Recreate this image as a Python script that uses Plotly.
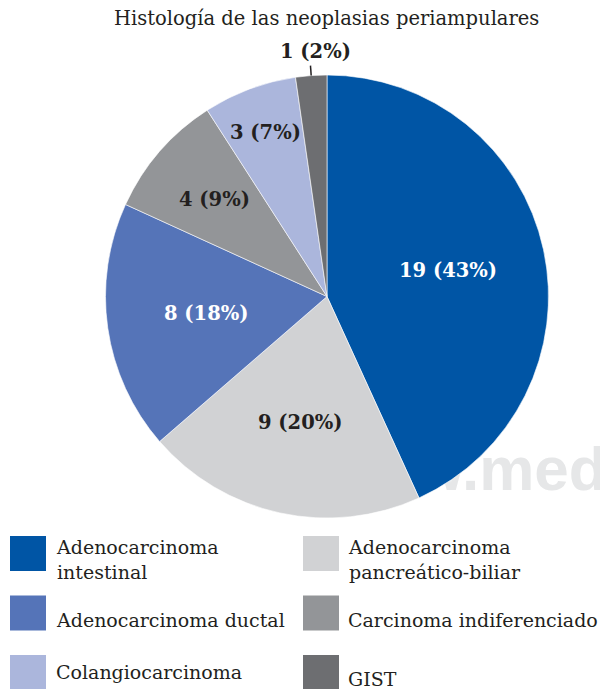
import math
import plotly.graph_objects as go

# ---------------- data ----------------
categories = ["Adenocarcinoma intestinal", "Adenocarcinoma pancreático-biliar",
              "Adenocarcinoma ductal", "Carcinoma indiferenciado",
              "Colangiocarcinoma", "GIST"]
legend_labels = ["Adenocarcinoma<br>intestinal", "Adenocarcinoma<br>pancreático-biliar",
                 "Adenocarcinoma ductal", "Carcinoma indiferenciado",
                 "Colangiocarcinoma", "GIST"]
values = [19, 9, 8, 4, 3, 1]
colors = ["#0055a5", "#d1d2d4", "#5574b8", "#939598", "#abb6dc", "#6d6e71"]
text_colors = ["#ffffff", "#231f20", "#ffffff", "#231f20", "#231f20", "#231f20"]
title_text = "Histología de las neoplasias periampulares"
watermark = "w.medigraphic.org.mx"

# label placement along each slice bisector (fraction of radius; >1 = outside)
label_radius = [0.56, 0.58, 0.55, 0.67, 0.79, 1.0]

# page body has an 8px margin: shrink figure and offset coordinates
OFF = 8
W, H = 608 - OFF, 689 - OFF
DARK = "#231f20"
SERIF = "DejaVu Serif, Liberation Serif, serif"
FS = 19.5
FS_LEG = 19

def px(x):
    return (x - OFF) / W

def py(y):
    return 1 - (y - OFF) / H

# pie box in (reference) pixels
pie_x0, pie_x1, pie_y0, pie_y1 = 105, 549, 75, 518

fig = go.Figure()

# watermark underneath pie (cartesian layer is drawn below pie layer)
fig.add_trace(go.Scatter(
    x=[416], y=[474], mode="text", text=[watermark], textposition="middle right",
    textfont=dict(family="Liberation Sans, Arial, sans-serif",
                  size=62, color="#e6e7e8", weight="bold"),
    hoverinfo="skip", showlegend=False, cliponaxis=False,
))

fig.add_trace(go.Pie(
    labels=categories, values=values, sort=False, direction="clockwise", rotation=0,
    marker=dict(colors=colors, line=dict(color="#ffffff", width=0.6)),
    textinfo="none",
    domain=dict(x=[px(pie_x0), px(pie_x1)], y=[py(pie_y1), py(pie_y0)]),
    showlegend=False, hoverinfo="label+value+percent",
))

# slice labels, positioned from the data along each slice bisector
total = sum(values)
cx, cy = (pie_x0 + pie_x1) / 2, (pie_y0 + pie_y1) / 2
r = min(pie_x1 - pie_x0, pie_y1 - pie_y0) / 2

shapes = []
annotations = [
    dict(text=title_text, x=px(326), y=py(18), xref="paper", yref="paper",
         showarrow=False, xanchor="center", yanchor="middle",
         font=dict(family=SERIF, size=FS, color=DARK)),
]

cum = 0
for v, tc, rf in zip(values, text_colors, label_radius):
    mid = cum + v / 2
    cum += v
    ang = 2 * math.pi * mid / total
    s, c = math.sin(ang), -math.cos(ang)
    label = f"{v} ({round(100 * v / total)}%)"
    if rf >= 1:
        # outside label with a short leader line
        xa, ya = cx + r * s, cy + r * c
        xb, yb = cx + (r + 10) * s, cy + (r + 10) * c
        shapes.append(dict(type="line", xref="paper", yref="paper",
                           x0=px(xa), y0=py(ya), x1=px(xb), y1=py(yb),
                           line=dict(color=DARK, width=1.5)))
        annotations.append(dict(text=label, x=px(xb + 5), y=py(yb - 1),
                                xref="paper", yref="paper", showarrow=False,
                                xanchor="center", yanchor="bottom",
                                font=dict(family=SERIF, size=FS, color=DARK, weight="bold")))
    else:
        annotations.append(dict(text=label, x=px(cx + rf * r * s), y=py(cy + rf * r * c),
                                xref="paper", yref="paper", showarrow=False,
                                xanchor="center", yanchor="middle",
                                font=dict(family=SERIF, size=FS, color=tc, weight="bold")))

# custom legend grid (2 columns x 3 rows)
sw_x = [10, 303]
tx_x = [54, 346]
text_y = [559, 559, 620, 620, 672, 679]
for i, (lab, col) in enumerate(zip(legend_labels, colors)):
    row, c = divmod(i, 2)
    y0 = 536 + row * 59.5
    shapes.append(dict(type="rect", xref="paper", yref="paper",
                       x0=px(sw_x[c]), x1=px(sw_x[c] + 36), y0=py(y0 + 35), y1=py(y0),
                       fillcolor=col, line=dict(width=0)))
    annotations.append(dict(text=lab, x=px(tx_x[c]), y=py(text_y[i]), xref="paper", yref="paper",
                            showarrow=False, xanchor="left", yanchor="middle", align="left",
                            font=dict(family=SERIF, size=FS_LEG, color=DARK)))

fig.update_layout(
    width=W, height=H, margin=dict(l=0, r=0, t=0, b=0),
    paper_bgcolor="#ffffff", plot_bgcolor="rgba(0,0,0,0)",
    xaxis=dict(range=[OFF, OFF + W], visible=False, domain=[0, 1], fixedrange=True),
    yaxis=dict(range=[OFF + H, OFF], visible=False, domain=[0, 1], fixedrange=True),
    shapes=shapes, annotations=annotations,
    showlegend=False,
)

fig.write_html("out.html")
